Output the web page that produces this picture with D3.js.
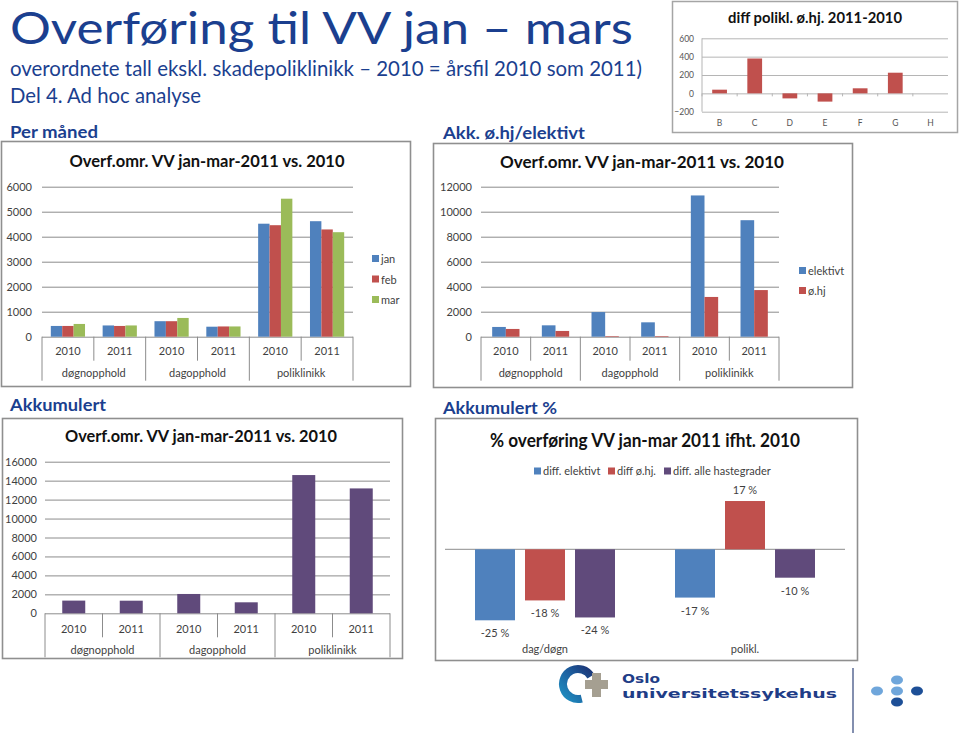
<!DOCTYPE html>
<html><head><meta charset="utf-8">
<script src="https://cdn.jsdelivr.net/npm/d3@7"></script>
<style>body{margin:0;background:#fff} svg{display:block}</style>
</head><body>
<svg id="c" width="960" height="733"></svg>
<script>
// ---------- DATA ----------
const groupLabels = ["døgnopphold", "dagopphold", "poliklinikk"];
const yearLabels = ["2010", "2011", "2010", "2011", "2010", "2011"];
const monthNames = ["jan", "feb", "mar"];
const janValues = [430, 450, 620, 400, 4520, 4620];
const febValues = [430, 430, 620, 410, 4460, 4290];
const marValues = [510, 450, 750, 410, 5520, 4180];
const urgencyNames = ["elektivt", "ø.hj"];
const elektivtValues = [780, 910, 1970, 1150, 11300, 9320];
const ohjValues = [620, 460, 50, 50, 3180, 3730];
const totalValues = [1340, 1330, 2040, 1160, 14590, 13180];
const pctCategories = ["dag/døgn", "polikl."];
const pctNames = ["diff. elektivt", "diff ø.hj.", "diff. alle hastegrader"];
const pctElektivt = [-25, -17];
const pctOhj = [-18, 17];
const pctAlle = [-24, -10];
const diffCategories = ["B", "C", "D", "E", "F", "G", "H"];
const diffValues = [40, 380, -55, -90, 55, 225, null];
const ticksMonth = [0, 1000, 2000, 3000, 4000, 5000, 6000];
const ticksUrgency = [0, 2000, 4000, 6000, 8000, 10000, 12000];
const ticksTotal = [0, 2000, 4000, 6000, 8000, 10000, 12000, 14000, 16000];
const ticksDiff = [-200, 0, 200, 400, 600];

// ---------- STYLE ----------
const FONT = "Lato, 'Open Sans', sans-serif";
const BLUE = "#4f81bd", RED = "#c0504d", GREEN = "#9bbb59", PURPLE = "#604a7b";
const NAVY = "#1b3f8f";
const GRID = "#8c8c8c", LABEL = "#3f3f3f", FRAME = "#8f8f8f";

const svg = d3.select("#c");

function txt(g, x, y, s, o = {}) {
  const t = g.append("text").attr("x", x).attr("y", y).text(s)
    .attr("font-family", o.family || FONT)
    .attr("font-size", o.size || 11)
    .attr("font-weight", o.weight || "normal")
    .attr("fill", o.fill || LABEL)
    .attr("text-anchor", o.anchor || "start");
  if (o.len) t.attr("textLength", o.len).attr("lengthAdjust", "spacingAndGlyphs");
  return t;
}

// ---------- SLIDE TEXT ----------
txt(svg, 10, 44, "Overføring til VV jan – mars", {size: 44.5, fill: NAVY, len: 623});
txt(svg, 10, 76, "overordnete tall ekskl. skadepoliklinikk – 2010 = årsfil 2010 som 2011)", {size: 21.5, fill: NAVY, len: 632});
txt(svg, 10, 103, "Del 4. Ad hoc analyse", {size: 21.5, fill: NAVY, len: 191});
txt(svg, 10, 138, "Per måned", {size: 17, weight: "bold", fill: NAVY, len: 88});
txt(svg, 443, 139, "Akk. ø.hj/elektivt", {size: 17, weight: "bold", fill: NAVY, len: 142});
txt(svg, 10, 411, "Akkumulert", {size: 17, weight: "bold", fill: NAVY, len: 96});
txt(svg, 443, 414, "Akkumulert %", {size: 17, weight: "bold", fill: NAVY, len: 114});

// ---------- CLUSTERED CHART WITH 2-LEVEL AXIS ----------
function clusterChart(cfg) {
  const g = svg.append("g");
  g.append("rect").attr("x", cfg.frame[0]).attr("y", cfg.frame[1])
    .attr("width", cfg.frame[2]).attr("height", cfg.frame[3])
    .attr("fill", "#fff").attr("stroke", FRAME).attr("stroke-width", 1.6);
  txt(g, cfg.titleX, cfg.titleY, "Overf.omr. VV jan-mar-2011 vs. 2010",
      {size: 17, weight: "bold", fill: "#111", anchor: "middle", len: cfg.titleLen});

  const y = d3.scaleLinear().domain([0, cfg.ticks[cfg.ticks.length - 1]]).range([cfg.zeroY, cfg.topY]);
  const x = d3.scaleBand().domain(d3.range(yearLabels.length)).range([cfg.x0, cfg.x1]);
  const bw = x.bandwidth();
  const inner = d3.scaleBand().domain(cfg.series.map(s => s.name))
    .range([bw * (1 - cfg.frac) / 2, bw * (1 + cfg.frac) / 2]);

  const ax = d3.axisLeft(y).tickValues(cfg.ticks).tickSize(-(cfg.x1 - cfg.x0))
    .tickPadding(cfg.pad).tickFormat(d3.format("d"));
  const axG = g.append("g").attr("transform", `translate(${cfg.x0},0)`).call(ax)
    .attr("font-family", FONT).attr("font-size", 11);
  axG.select(".domain").remove();
  axG.selectAll(".tick line").attr("stroke", GRID).attr("stroke-width", 1);
  axG.selectAll(".tick text").attr("fill", LABEL);

  // category separators (below the zero line only)
  d3.range(yearLabels.length + 1).forEach(i => {
    const xx = i < yearLabels.length ? x(i) : cfg.x1;
    const long = i % 2 === 0;
    g.append("line").attr("x1", xx).attr("x2", xx)
      .attr("y1", cfg.zeroY)
      .attr("y2", cfg.zeroY + (long ? cfg.longLen : cfg.shortLen))
      .attr("stroke", GRID).attr("stroke-width", 1);
  });

  cfg.series.forEach(s => {
    g.selectAll(null).data(s.values).join("rect")
      .attr("x", (d, i) => x(i) + inner(s.name))
      .attr("y", d => y(d))
      .attr("width", inner.bandwidth())
      .attr("height", d => y(0) - y(d))
      .attr("fill", s.color);
  });

  yearLabels.forEach((l, i) => txt(g, x(i) + bw / 2, cfg.yearY, l, {anchor: "middle"}));
  groupLabels.forEach((l, k) => txt(g, x(2 * k) + bw, cfg.groupY, l, {anchor: "middle"}));

  if (cfg.legend) {
    cfg.series.forEach((s, i) => {
      const ly = cfg.legend.y0 + i * cfg.legend.dy;
      g.append("rect").attr("x", cfg.legend.x).attr("y", ly - 4).attr("width", 7).attr("height", 7).attr("fill", s.color);
      txt(g, cfg.legend.x + 9, ly + 4, s.name, {size: 11});
    });
  }
}

clusterChart({
  frame: [1.5, 141.5, 409, 245], titleX: 207, titleY: 167, titleLen: 275,
  x0: 42, x1: 353, zeroY: 336.7, topY: 186.7, ticks: ticksMonth, pad: 10,
  frac: 0.66, longLen: 44, shortLen: 24, yearY: 355, groupY: 377,
  series: [
    {name: monthNames[0], values: janValues, color: BLUE},
    {name: monthNames[1], values: febValues, color: RED},
    {name: monthNames[2], values: marValues, color: GREEN}
  ],
  legend: {x: 372, y0: 259, dy: 20.5}
});

clusterChart({
  frame: [433.5, 143.5, 419, 244], titleX: 642, titleY: 168, titleLen: 284,
  x0: 481, x1: 779, zeroY: 336.7, topY: 186.7, ticks: ticksUrgency, pad: 9,
  frac: 0.55, longLen: 44, shortLen: 24, yearY: 355, groupY: 377,
  series: [
    {name: urgencyNames[0], values: elektivtValues, color: BLUE},
    {name: urgencyNames[1], values: ohjValues, color: RED}
  ],
  legend: {x: 799, y0: 271, dy: 20}
});

clusterChart({
  frame: [2.5, 418.5, 400, 240], titleX: 201, titleY: 442, titleLen: 272,
  x0: 45, x1: 390, zeroY: 613.3, topY: 461.7, ticks: ticksTotal, pad: 8,
  frac: 0.4, longLen: 44, shortLen: 24, yearY: 633, groupY: 654,
  series: [{name: "total", values: totalValues, color: PURPLE}],
  legend: null
});

// ---------- PERCENT CHART ----------
(function () {
  const g = svg.append("g");
  g.append("rect").attr("x", 435.5).attr("y", 418.5).attr("width", 422).attr("height", 242)
    .attr("fill", "#fff").attr("stroke", FRAME).attr("stroke-width", 1.6);
  txt(g, 645, 447, "% overføring VV jan-mar 2011 ifht. 2010",
      {size: 18, weight: "bold", fill: "#111", anchor: "middle", len: 310});
  const series = [
    {name: pctNames[0], values: pctElektivt, color: BLUE},
    {name: pctNames[1], values: pctOhj, color: RED},
    {name: pctNames[2], values: pctAlle, color: PURPLE}
  ];
  const x = d3.scaleBand().domain(pctCategories).range([445, 845]);
  const inner = d3.scaleBand().domain(pctNames).range([30, 170]).paddingInner(0.2);
  const y = d3.scaleLinear().domain([-30, 30]).range([549.3 + 85.2, 549.3 - 85.2]);

  g.append("line").attr("x1", 445).attr("x2", 845).attr("y1", y(0)).attr("y2", y(0))
    .attr("stroke", GRID).attr("stroke-width", 1);

  series.forEach(s => {
    const data = s.values.map((v, i) => ({v, c: pctCategories[i]}));
    g.selectAll(null).data(data).join("rect")
      .attr("x", d => x(d.c) + inner(s.name))
      .attr("y", d => y(Math.max(0, d.v)))
      .attr("width", inner.bandwidth())
      .attr("height", d => Math.abs(y(d.v) - y(0)))
      .attr("fill", s.color);
    g.selectAll(null).data(data).join("text")
      .attr("x", d => x(d.c) + inner(s.name) + inner.bandwidth() / 2)
      .attr("y", d => d.v < 0 ? y(d.v) + 17 : y(d.v) - 7)
      .attr("text-anchor", "middle").attr("font-family", FONT).attr("font-size", 11)
      .attr("fill", LABEL).text(d => `${d.v} %`);
  });
  pctCategories.forEach(c => txt(g, x(c) + x.bandwidth() / 2, 653, c, {anchor: "middle"}));

  const legX = [534, 608, 664];
  series.forEach((s, i) => {
    g.append("rect").attr("x", legX[i]).attr("y", 467.5).attr("width", 7).attr("height", 7).attr("fill", s.color);
    txt(g, legX[i] + 9, 475, s.name, {size: 11});
  });
})();

// ---------- SMALL DIFF CHART ----------
(function () {
  const g = svg.append("g");
  g.append("rect").attr("x", 672.5).attr("y", 1.5).attr("width", 285).attr("height", 131)
    .attr("fill", "#fff").attr("stroke", "#a5a5a5").attr("stroke-width", 1.5);
  txt(g, 815, 23, "diff polikl. ø.hj. 2011-2010", {size: 14.5, weight: "bold", fill: "#111", anchor: "middle", len: 174});
  const x = d3.scaleBand().domain(diffCategories).range([702, 948]);
  const y = d3.scaleLinear().domain([-200, 600]).range([111.7, 38.3]);
  const ax = d3.axisLeft(y).tickValues(ticksDiff).tickSize(-(948 - 702)).tickPadding(8).tickFormat(d3.format("d"));
  const axG = g.append("g").attr("transform", "translate(702,0)").call(ax)
    .attr("font-family", FONT).attr("font-size", 8.5);
  axG.select(".domain").remove();
  axG.selectAll(".tick line").attr("stroke", "#b5b5b5");
  axG.selectAll(".tick text").attr("fill", "#555");
  g.append("line").attr("x1", 702).attr("x2", 702).attr("y1", y(600)).attr("y2", y(-200)).attr("stroke", "#b5b5b5");
  diffCategories.forEach(c => {
    g.append("line").attr("x1", x(c)).attr("x2", x(c)).attr("y1", y(0)).attr("y2", y(0) + 3).attr("stroke", "#b5b5b5");
  });
  const bw = x.bandwidth() * 0.42;
  g.selectAll(null).data(diffValues.map((v, i) => ({v, c: diffCategories[i]})).filter(d => d.v !== null))
    .join("rect")
    .attr("x", d => x(d.c) + (x.bandwidth() - bw) / 2)
    .attr("y", d => y(Math.max(0, d.v)))
    .attr("width", bw)
    .attr("height", d => Math.abs(y(d.v) - y(0)))
    .attr("fill", RED);
  diffCategories.forEach(c => txt(g, x(c) + x.bandwidth() / 2, 126, c, {size: 8.5, anchor: "middle", fill: "#555"}));
})();

// ---------- LOGO ----------
(function () {
  const g = svg.append("g");
  const defs = svg.append("defs");
  const lg = defs.append("linearGradient").attr("id", "lgC").attr("x1", "0").attr("y1", "1").attr("x2", "1").attr("y2", "0");
  lg.append("stop").attr("offset", "0").attr("stop-color", "#1f9ac9");
  lg.append("stop").attr("offset", "0.55").attr("stop-color", "#1d5e9e");
  lg.append("stop").attr("offset", "1").attr("stop-color", "#1c2a6b");
  const arc = d3.arc().innerRadius(11).outerRadius(19).startAngle(Math.PI * 0.92).endAngle(Math.PI * 2.33);
  g.append("path").attr("d", arc()).attr("transform", "translate(578,684)").attr("fill", "url(#lgC)");
  g.append("rect").attr("x", 585).attr("y", 680).attr("width", 23).attr("height", 9).attr("fill", "#a59f91");
  g.append("rect").attr("x", 592).attr("y", 673).attr("width", 9).attr("height", 24).attr("fill", "#a59f91");
  txt(g, 622, 683, "Oslo", {size: 12.5, weight: "bold", fill: "#1f3d87", family: "'DejaVu Sans', sans-serif", len: 38});
  txt(g, 622, 698, "universitetssykehus", {size: 12.5, weight: "bold", fill: "#1f3d87", family: "'DejaVu Sans', sans-serif", len: 215});
  g.append("line").attr("x1", 853).attr("x2", 853).attr("y1", 668).attr("y2", 733).attr("stroke", "#5a6a94").attr("stroke-width", 1.5);
  const dots = [[897, 680, "#6fa6db"], [877, 691, "#6fa6db"], [897, 691, "#6fa6db"], [917, 691, "#1d4f97"], [897, 702, "#1d4f97"]];
  dots.forEach(d => g.append("ellipse").attr("cx", d[0]).attr("cy", d[1]).attr("rx", 6).attr("ry", 4.5).attr("fill", d[2]));
})();
</script>
</body></html>
